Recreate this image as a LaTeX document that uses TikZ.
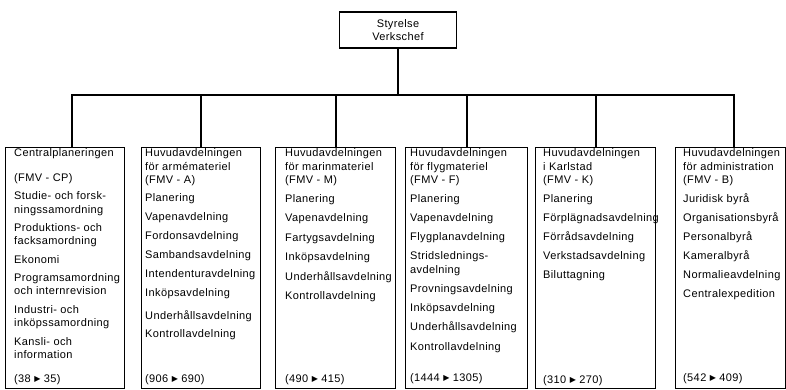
\documentclass[tikz,border=0pt]{standalone}
\usepackage{fontspec}
\setmainfont[LetterSpace=3.5]{Liberation Sans}
\newfontfamily\symfont{DejaVu Sans}
\usetikzlibrary{positioning}

\newcommand{\tri}{{\symfont\fontsize{8}{8}\selectfont\raisebox{0.3pt}{▶}}}

\tikzset{
  chart/.style={x=1pt, y=-1pt},
  unit/.style={draw, line width=1.1pt, inner sep=0pt, anchor=north west},
  link/.style={line width=2pt},
  list/.style={anchor=north west, inner sep=0pt, align=left,
    font=\fontsize{11}{13.5}\selectfont},
  sum/.style={anchor=base west, inner sep=0pt, font=\fontsize{11}{13.5}\selectfont},
}

\begin{document}
\begin{tikzpicture}[chart]
    \useasboundingbox (0, 0) rectangle (786, 389);

    % top
    \node[draw, line width=1.1pt, minimum width=117pt, minimum height=36pt, align=center,
      font=\fontsize{11}{13}\selectfont] (top) at (398, 30) {Styrelse\\Verkschef};

    % departments
    \node[unit, minimum width=119pt, minimum height=241pt] (cp) at (5, 147) {};
    \node[unit, minimum width=119pt, minimum height=241pt] (arme) at (141, 147) {};
    \node[unit, minimum width=120pt, minimum height=241pt] (marin) at (275, 147) {};
    \node[unit, minimum width=122pt, minimum height=241pt] (flyg) at (405, 147) {};
    \node[unit, minimum width=120pt, minimum height=241pt] (karl) at (535, 147) {};
    \node[unit, minimum width=110pt, minimum height=241pt] (adm) at (675, 147) {};

    % lines
    \coordinate (busL) at (72, 95);
    \coordinate (busR) at (734, 95);
    \draw[link] (cp.north -| busL) -- (busL) -- (busR) -- (adm.north -| busR);
    \draw[link] (top.south) -- (top.south |- busL);
    \foreach \n in {arme, marin, flyg, karl}
      \draw[link] (\n.north) -- (\n.north |- busL);

    % texts
    \node[list] (cpT) at ([xshift=9pt, yshift=-1.5pt]cp.north west)
      {Centralplaneringen\\[11pt]
       (FMV - CP)\\[5pt]
       Studie- och forsk-\\ningssamordning\\[4.5pt]
       Produktions- och\\facksamordning\\[5pt]
       Ekonomi\\[4.5pt]
       Programsamordning\\och internrevision\\[5pt]
       Industri- och\\inköpssamordning\\[5pt]
       Kansli- och\\information};
    \node[list] (armeT) at ([xshift=4pt, yshift=-1.5pt]arme.north west)
      {Huvudavdelningen\\för armémateriel\\(FMV - A)\\[4.5pt]
       Planering\\[5.5pt]
       Vapenavdelning\\[5.5pt]
       Fordonsavdelning\\[5.5pt]
       Sambandsavdelning\\[5.5pt]
       Intendenturavdelning\\[5.5pt]
       Inköpsavdelning\\[9.5pt]
       Underhållsavdelning\\[4.5pt]
       Kontrollavdelning};
    \node[list] (marinT) at ([xshift=10pt, yshift=-1.5pt]marin.north west)
      {Huvudavdelningen\\för marinmateriel\\(FMV - M)\\[5pt]
       Planering\\[6pt]
       Vapenavdelning\\[6pt]
       Fartygsavdelning\\[6pt]
       Inköpsavdelning\\[6pt]
       Underhållsavdelning\\[6pt]
       Kontrollavdelning};
    \node[list] (flygT) at ([xshift=5pt, yshift=-1.5pt]flyg.north west)
      {Huvudavdelningen\\för flygmateriel\\(FMV - F)\\[5pt]
       Planering\\[5.5pt]
       Vapenavdelning\\[5.5pt]
       Flygplanavdelning\\[6pt]
       Stridslednings-\\avdelning\\[6pt]
       Provningsavdelning\\[5pt]
       Inköpsavdelning\\[6pt]
       Underhållsavdelning\\[6pt]
       Kontrollavdelning};
    \node[list] (karlT) at ([xshift=8pt, yshift=-1.5pt]karl.north west)
      {Huvudavdelningen\\i Karlstad\\(FMV - K)\\[5pt]
       Planering\\[5.5pt]
       Förplägnadsavdelning\\[5.5pt]
       Förrådsavdelning\\[6pt]
       Verkstadsavdelning\\[5.5pt]
       Biluttagning};
    \node[list] (admT) at ([xshift=8pt, yshift=-1.5pt]adm.north west)
      {Huvudavdelningen\\för administration\\(FMV - B)\\[5pt]
       Juridisk byrå\\[5.5pt]
       Organisationsbyrå\\[5.5pt]
       Personalbyrå\\[5.5pt]
       Kameralbyrå\\[5.5pt]
       Normalieavdelning\\[5.5pt]
       Centralexpedition};

    % sums
    \node[sum] (cpS) at (14, 382) {(38 \tri{} 35)};
    \node[sum] (armeS) at (145, 382) {(906 \tri{} 690)};
    \node[sum] (marinS) at (285, 382) {(490 \tri{} 415)};
    \node[sum] (flygS) at (410, 381) {(1444 \tri{} 1305)};
    \node[sum] (karlS) at (543, 383) {(310 \tri{} 270)};
    \node[sum] (admS) at (683, 381) {(542 \tri{} 409)};
  \end{tikzpicture}
\end{document}
